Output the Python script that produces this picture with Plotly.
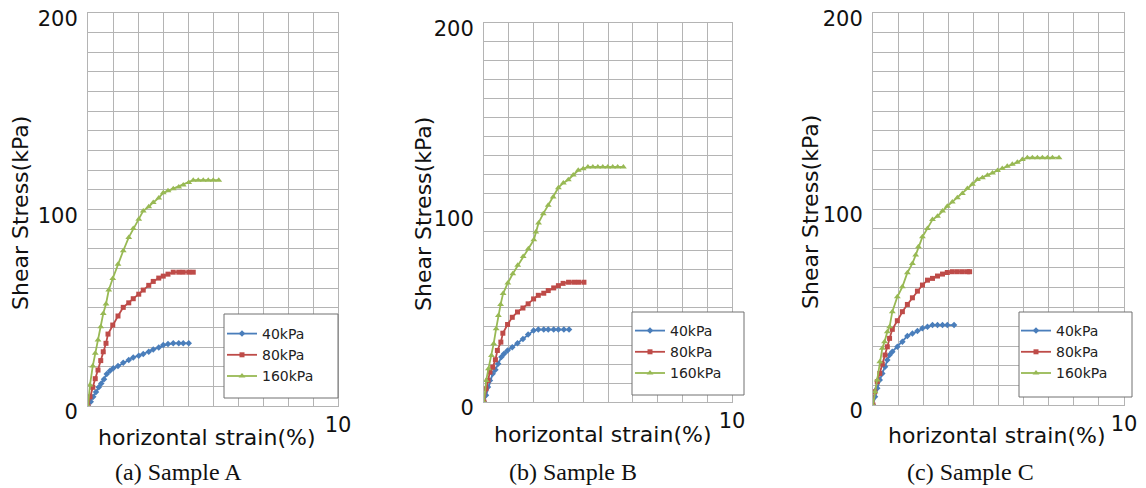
import plotly.graph_objects as go

W, H = 1146, 488          # reference picture size
OFF = 8                   # page body margin in the browser
FW, FH = W - OFF, H - OFF  # figure size so that it fills the window

# ---------------- data ----------------
A_x40 = [0, 0.11, 0.21, 0.32, 0.43, 0.53, 0.64, 0.75, 0.88, 1.01, 1.2, 1.41, 1.63, 1.81, 2.03, 2.21, 2.43, 2.61, 2.83, 3.01, 3.2, 3.41, 3.63, 3.81, 4.03]
A_y40 = [0, 2.2, 4.7, 7.1, 9.5, 11.5, 13.6, 16.3, 18, 19.2, 20.3, 22, 23.4, 24.7, 25.6, 26.4, 27.6, 28.8, 29.8, 31, 31.5, 31.9, 31.9, 31.9, 31.9]
A_x80 = [0, 0.08, 0.19, 0.29, 0.4, 0.51, 0.61, 0.72, 0.8, 0.99, 1.2, 1.41, 1.63, 1.81, 2.03, 2.21, 2.43, 2.61, 2.83, 3.01, 3.2, 3.41, 3.63, 3.81, 4.03, 4.21]
A_y80 = [0, 4.7, 9.5, 13.9, 18.3, 23.1, 27.6, 31.9, 36.6, 41.2, 45.8, 50.2, 52.5, 54.6, 56.9, 59, 61.4, 63.4, 65.1, 66.1, 67.1, 68.1, 68.1, 68.1, 68.1, 68.1]
A_x160 = [0, 0.08, 0.19, 0.29, 0.4, 0.51, 0.61, 0.72, 0.83, 0.99, 1.2, 1.41, 1.63, 1.81, 2.03, 2.21, 2.43, 2.61, 2.83, 3.01, 3.2, 3.41, 3.63, 3.81, 4.03, 4.21, 4.41, 4.61, 4.81, 5.01, 5.23]
A_y160 = [0, 10.7, 20.3, 26.8, 33.6, 40.3, 47.1, 51.9, 59, 64.9, 72.2, 79, 85.8, 90.3, 95.1, 99.3, 101.4, 103.6, 105.9, 108.5, 109.5, 110.5, 111.5, 112.5, 113.7, 114.9, 114.9, 114.9, 114.9, 114.9, 114.9]

B_x40 = [0, 0.08, 0.16, 0.24, 0.35, 0.46, 0.57, 0.7, 0.81, 0.95, 1.14, 1.35, 1.57, 1.78, 2.0, 2.19, 2.41, 2.59, 2.81, 3.0, 3.22, 3.43]
B_y40 = [0, 3.5, 7.9, 11.4, 14.9, 17, 20.2, 23.7, 25.4, 27.2, 28.9, 31, 33.3, 35.6, 37.7, 38.2, 38.2, 38.2, 38.2, 38.2, 38.2, 38.2]
B_x80 = [0, 0.08, 0.16, 0.24, 0.35, 0.46, 0.54, 0.68, 0.76, 0.95, 1.14, 1.35, 1.57, 1.78, 2.0, 2.19, 2.41, 2.59, 2.81, 3.0, 3.19, 3.41, 3.62, 3.81, 4.03]
B_y80 = [0, 7, 11.4, 15.8, 18.4, 22.3, 27.2, 31.6, 36.3, 40.9, 44.7, 47.5, 49.6, 51.8, 54.4, 56.3, 57.4, 58.8, 60.2, 61.4, 62.6, 63.2, 63.2, 63.2, 63.2]
B_x160 = [0, 0.09, 0.18, 0.3, 0.39, 0.49, 0.58, 0.67, 0.77, 0.96, 1.16, 1.36, 1.58, 1.79, 2.01, 2.09, 2.2, 2.39, 2.59, 2.79, 3.0, 3.2, 3.4, 3.6, 3.8, 4.0, 4.19, 4.39, 4.59, 4.79, 4.99, 5.19, 5.39, 5.62]
B_y160 = [0, 11.4, 17.6, 24.6, 30.8, 38.7, 45.7, 51.5, 57.2, 62.8, 67.7, 72.1, 76.8, 80.9, 85.6, 89.7, 94.5, 99.4, 103.8, 108.2, 113.1, 115.6, 117.3, 119.8, 122.3, 123.1, 124, 124, 124, 124, 124, 124, 124, 124]

C_x40 = [0, 0.08, 0.17, 0.27, 0.37, 0.48, 0.57, 0.66, 0.77, 0.97, 1.17, 1.37, 1.57, 1.77, 1.97, 2.17, 2.37, 2.57, 2.77, 2.96, 3.23]
C_y40 = [0, 4.2, 8.5, 12.7, 16.1, 19.5, 22.9, 25.5, 27.2, 29.7, 32.3, 35.2, 36.5, 37.7, 39.1, 39.9, 40.8, 40.8, 40.8, 40.8, 40.8]
C_x80 = [0, 0.07, 0.17, 0.27, 0.37, 0.48, 0.57, 0.66, 0.77, 0.97, 1.17, 1.37, 1.57, 1.77, 1.97, 2.17, 2.37, 2.57, 2.77, 2.96, 3.16, 3.36, 3.56, 3.76, 3.85]
C_y80 = [0, 6.8, 11.9, 16.1, 20.9, 25.5, 29.7, 34, 38.6, 43, 47.6, 51.3, 54.7, 58.1, 61.2, 63.7, 64.6, 65.8, 66.8, 67.6, 68, 68, 68, 68, 68]
C_x160 = [0, 0.08, 0.17, 0.27, 0.37, 0.46, 0.57, 0.66, 0.77, 0.97, 1.17, 1.37, 1.57, 1.7, 1.81, 1.97, 2.17, 2.37, 2.57, 2.77, 2.96, 3.16, 3.36, 3.56, 3.76, 3.96, 4.16, 4.36, 4.56, 4.76, 4.96, 5.15, 5.35, 5.55, 5.75, 5.95, 6.15, 6.35, 6.55, 6.75, 6.95, 7.15, 7.41]
C_y160 = [0, 6.8, 12.7, 22.1, 28.9, 32.3, 37.4, 39.9, 47.6, 55.2, 60.3, 67.5, 72.2, 76.5, 80.7, 85.8, 90.1, 94.6, 96.3, 99, 101.4, 103.6, 105.8, 107.9, 110.4, 112.6, 115, 116, 117.2, 118.4, 119.7, 120.6, 121.8, 122.8, 123.8, 125.2, 126.2, 126.2, 126.2, 126.2, 126.2, 126.2, 126.2]

series_names = ["40kPa", "80kPa", "160kPa"]
captions = ["(a) Sample A", "(b) Sample B", "(c) Sample C"]
y_tick_vals = list(range(0, 201, 10))
y_tick_text = ["0" if v == 0 else ("100" if v == 100 else ("200" if v == 200 else "")) for v in y_tick_vals]
x_tick_vals = list(range(0, 11))
x_tick_text = ["10" if v == 10 else "" for v in x_tick_vals]

panels = [
    [(A_x40, A_y40), (A_x80, A_y80), (A_x160, A_y160)],
    [(B_x40, B_y40), (B_x80, B_y80), (B_x160, B_y160)],
    [(C_x40, C_y40), (C_x80, C_y80), (C_x160, C_y160)],
]

# ---------------- layout geometry (reference pixels) ----------------
plot_boxes = [(88, 338, 13, 406), (484, 732, 23, 402), (873, 1124, 13, 405)]  # x0,x1,ytop,ybottom
legend_boxes = [(224, 338, 314, 398), (632, 744, 312, 395), (1019, 1132, 312, 397)]
legend_anchor = [(222, 318), (630, 315), (1016, 315)]
ytitle_pos = [(21, 213), (423, 214), (810, 212)]
xtitle_pos = [(206, 437), (603, 434), (996, 435)]
caption_pos = [(178, 472), (573, 472), (970, 472)]

colors = ["#4A7EBB", "#BE4B48", "#98B954"]
symbols = ["diamond", "square", "triangle-up"]
msizes = [5, 5, 6]
grid_col = "#b4b4b4"
sans = "DejaVu Sans"

def px(x):
    return (x - OFF) / FW

def py(y):
    return 1 - (y - OFF) / FH

fig = go.Figure()
shapes = []
annotations = []
layout = {}

for i, series in enumerate(panels):
    n = "" if i == 0 else str(i + 1)
    leg = "legend" if i == 0 else "legend" + str(i + 1)
    for j, (xs, ys) in enumerate(series):
        fig.add_trace(go.Scatter(
            x=xs, y=ys, mode="lines+markers", name=series_names[j],
            xaxis="x" + n, yaxis="y" + n, legend=leg,
            line=dict(color=colors[j], width=1.8),
            marker=dict(symbol=symbols[j], size=msizes[j], color=colors[j]),
        ))
    x0, x1, yt, yb = plot_boxes[i]
    layout["xaxis" + n] = dict(
        domain=[px(x0), px(x1)], range=[0, 10], anchor="y" + n, automargin=False,
        tickvals=x_tick_vals, ticktext=x_tick_text, ticks="", ticklabeloverflow="allow",
        showgrid=True, gridcolor=grid_col, gridwidth=1, zeroline=False,
        showline=True, linecolor=grid_col, linewidth=1, mirror=True,
        tickfont=dict(family=sans, size=21, color="#111111"),
    )
    layout["yaxis" + n] = dict(
        domain=[py(yb), py(yt)], range=[0, 200], anchor="x" + n, automargin=False,
        tickvals=y_tick_vals, ticktext=y_tick_text, ticks="", ticklabeloverflow="allow",
        showgrid=True, gridcolor=grid_col, gridwidth=1, zeroline=False,
        showline=True, linecolor=grid_col, linewidth=1, mirror=True,
        tickfont=dict(family=sans, size=21, color="#111111"),
        ticklabelstandoff=5, ticklabelshift=6,
    )
    lx0, lx1, ly0, ly1 = legend_boxes[i]
    shapes.append(dict(type="rect", xref="paper", yref="paper", layer="above",
                       x0=px(lx0), x1=px(lx1), y0=py(ly1), y1=py(ly0),
                       fillcolor="white", line=dict(color="#707070", width=1)))
    ax, ay = legend_anchor[i]
    layout[leg] = dict(x=px(ax), y=py(ay), xanchor="left", yanchor="top",
                       bgcolor="rgba(0,0,0,0)", borderwidth=0,
                       font=dict(family=sans, size=14, color="#222222"))
    tx, ty = ytitle_pos[i]
    annotations.append(dict(text="Shear Stress(kPa)", x=px(tx), y=py(ty), xref="paper", yref="paper",
                            showarrow=False, textangle=-90, xanchor="center", yanchor="middle",
                            font=dict(family=sans, size=22, color="#111111")))
    tx, ty = xtitle_pos[i]
    annotations.append(dict(text="horizontal strain(%)", x=px(tx), y=py(ty), xref="paper", yref="paper",
                            showarrow=False, xanchor="center", yanchor="middle",
                            font=dict(family=sans, size=22, color="#111111")))
    tx, ty = caption_pos[i]
    annotations.append(dict(text=captions[i], x=px(tx), y=py(ty), xref="paper", yref="paper",
                            showarrow=False, xanchor="center", yanchor="middle",
                            font=dict(family="Liberation Serif", size=24, color="#111111")))

fig.update_layout(
    width=FW, height=FH, autosize=False,
    margin=dict(l=0, r=0, t=0, b=0, pad=0, autoexpand=False),
    paper_bgcolor="white", plot_bgcolor="white",
    showlegend=True, shapes=shapes, annotations=annotations,
    **layout,
)

fig.write_html("out.html")
